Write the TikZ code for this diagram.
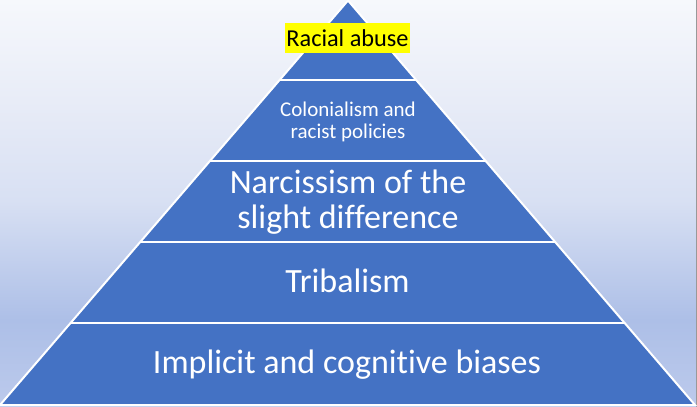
\documentclass[tikz,border=0pt]{standalone}
\usepackage{fontspec}
\setmainfont{Carlito}[Ligatures=CommonOff]
\usetikzlibrary{calc}
\definecolor{pyr}{HTML}{4472C4}
\definecolor{bgA}{HTML}{F6F8FC}
\definecolor{bgB}{HTML}{E8ECF7}
\definecolor{bgC}{HTML}{D8E0F3}
\definecolor{bgD}{HTML}{ADBFE7}
\definecolor{bgE}{HTML}{BCCAEC}
\definecolor{hl}{HTML}{FFFF00}
\pgfdeclareverticalshading{bgshade}{100bp}{color(0bp)=(bgE); color(25bp)=(bgE); color(35.7bp)=(bgD); color(50.4bp)=(bgC); color(62.7bp)=(bgB); color(75bp)=(bgA); color(100bp)=(bgA)}
\tikzset{
  lvl/.style={fill=pyr, draw=white, line width=2pt, line join=miter},
  divider/.style={draw=white, line width=2pt},
  big/.style={text=white, font=\fontsize{34}{35}\selectfont, inner sep=0pt, anchor=base},
  small/.style={text=white, font=\fontsize{21}{22}\selectfont, inner sep=0pt, anchor=base},
}
\begin{document}
\begin{tikzpicture}[x=1pt,y=-1pt]
\useasboundingbox (0,0) rectangle (697,407);
\shade[shading=bgshade] (0,0) rectangle (697,407);
\draw[draw=gray!80, line width=1pt] (696.5,0) -- (696.5,407);
\coordinate (apex) at (348,0.5);
\coordinate (bl) at (0,405);
\coordinate (br) at (695,405);
\path[lvl] (apex) -- (br) -- (bl) -- cycle;
\foreach \t/\n in {80/a,161/b,242/c,323/d}{
  \coordinate (l\n) at ($(apex)!{(\t-0.5)/404.5}!(bl)$);
  \coordinate (r\n) at ($(apex)!{(\t-0.5)/404.5}!(br)$);
  \draw[divider] (l\n) -- (r\n);
}
\node[anchor=base, fill=hl, inner xsep=1.5pt, inner ysep=0pt, text height=23pt, text depth=7pt,
      font=\fontsize{24.3}{25}\selectfont, text=black] (racial) at (347.5,46) {Racial abuse};
\node[small] (col1) at (348,116) {Colonialism and};
\node[small] (col2) at (348,138) {racist policies};
\node[big] (nar1) at (348,193) {Narcissism of the};
\node[big] (nar2) at (348,228) {slight difference};
\node[big] (tri) at (347.5,292) {Tribalism};
\node[big] (imp) at (347,373) {Implicit and cognitive biases};
\end{tikzpicture}
\end{document}
